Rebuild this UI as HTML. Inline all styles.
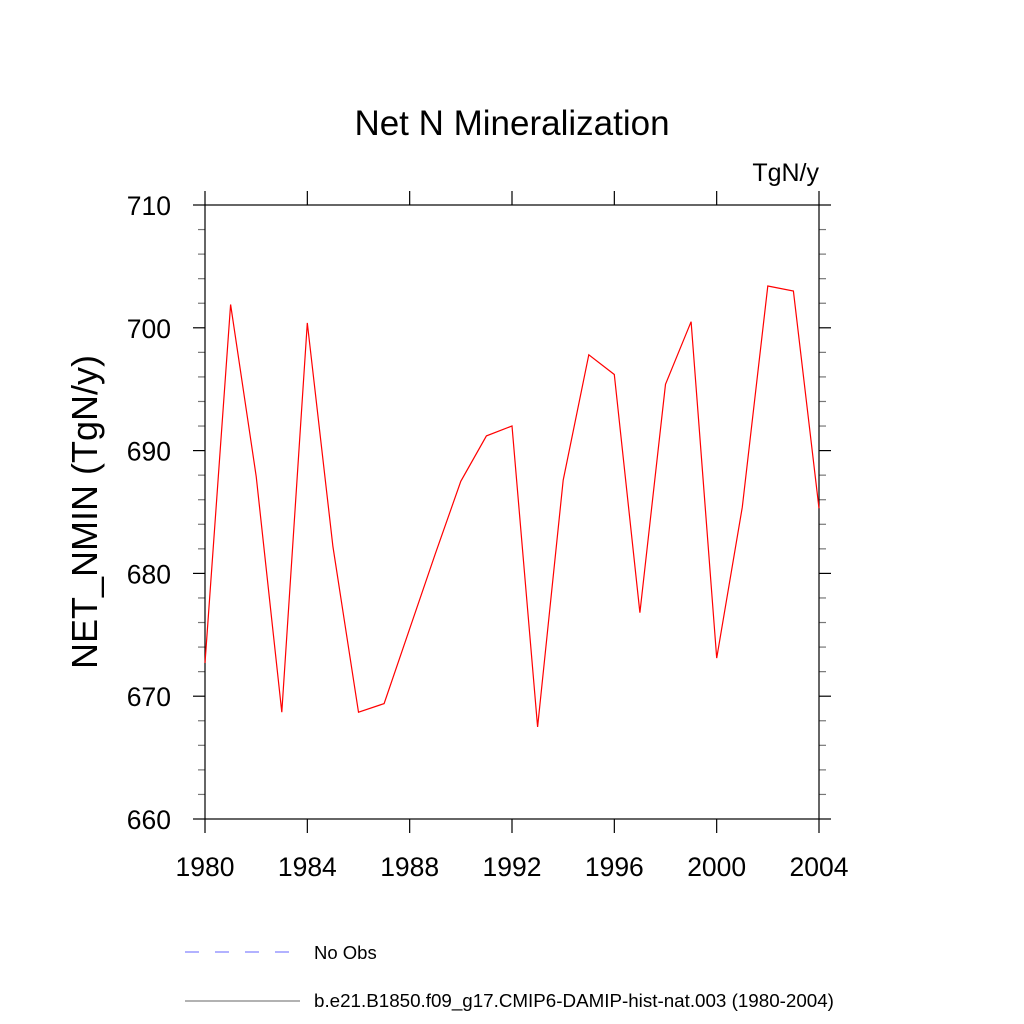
<!DOCTYPE html>
<html><head><meta charset="utf-8"><style>body{margin:0;background:#fff}svg{display:block;font-family:"Liberation Sans",sans-serif}</style></head>
<body>
<svg id="chart" width="1024" height="1024" viewBox="0 0 1024 1024" xmlns="http://www.w3.org/2000/svg">
<rect width="1024" height="1024" fill="#fff"/>
<text x="512" y="135" font-size="35" text-anchor="middle">Net N Mineralization</text>
<text x="819" y="181" font-size="25" text-anchor="end">TgN/y</text>
<text transform="translate(97,512) rotate(-90)" font-size="36" text-anchor="middle">NET_NMIN  (TgN/y)</text>
<g id="ticks"></g>
<rect x="205" y="205" width="614" height="614" fill="none" stroke="#000" stroke-width="1.2"/>
<polyline id="series" fill="none" stroke="#f00" stroke-width="1.2"/>
<g>
<line x1="185" y1="952" x2="292" y2="952" stroke="#66f" stroke-width="1" stroke-dasharray="14,16"/>
<text x="314" y="959" font-size="18.5">No Obs</text>
<line x1="185" y1="1001" x2="300" y2="1001" stroke="#666" stroke-width="1"/>
<text x="314" y="1007" font-size="18.8">b.e21.B1850.f09_g17.CMIP6-DAMIP-hist-nat.003 (1980-2004)</text>
</g>
</svg>
<script>
const years=[1980,1981,1982,1983,1984,1985,1986,1987,1988,1989,1990,1991,1992,1993,1994,1995,1996,1997,1998,1999,2000,2001,2002,2003,2004];
const values=[672.7,701.9,687.9,668.7,700.4,682.2,668.7,669.4,675.5,681.6,687.5,691.2,692.0,667.5,687.6,697.8,696.2,676.8,695.4,700.5,673.1,685.4,703.4,703.0,685.3];
const xTicks=[1980,1984,1988,1992,1996,2000,2004];
const yTicks=[660,670,680,690,700,710];
const X0=205,X1=819,Y0=819,Y1=205;
const xs=v=>X0+(v-1980)/(2004-1980)*(X1-X0);
const ys=v=>Y0-(v-660)/(710-660)*(Y0-Y1);
const NS="http://www.w3.org/2000/svg";
const g=document.getElementById('ticks');
function ln(x1,y1,x2,y2,c,name){const l=document.createElementNS(NS,'line');l.setAttribute('x1',x1);l.setAttribute('y1',y1);l.setAttribute('x2',x2);l.setAttribute('y2',y2);l.setAttribute('stroke',c);l.setAttribute('stroke-width','1.2');


g.appendChild(l);}
function tx(x,y,s,a,name){const t=document.createElementNS(NS,'text');t.setAttribute('x',x);t.setAttribute('y',y);t.setAttribute('font-size','26.5');t.setAttribute('text-anchor',a);t.textContent=s;


g.appendChild(t);}
for(let v=660;v<=710;v+=2){const y=ys(v);const maj=(v%10===0);const L=maj?12:7;const c=maj?'#000':'#777';
ln(X0-L,y,X0,y,c,'y-tick');ln(X1,y,X1+L,y,c,'y-tick-right');}
yTicks.forEach(v=>tx(X0-34,ys(v)+10,String(v),'end','y-tick-label'));
xTicks.forEach(v=>{const x=xs(v);ln(x,Y0,x,Y0+14,'#000','x-tick');ln(x,Y1-14,x,Y1,'#000','x-tick-top');tx(x,Y0+57,String(v),'middle','x-tick-label');});
document.getElementById('series').setAttribute('points',years.map((y,i)=>xs(y).toFixed(1)+','+ys(values[i]).toFixed(1)).join(' '));
</script>
</body></html>
